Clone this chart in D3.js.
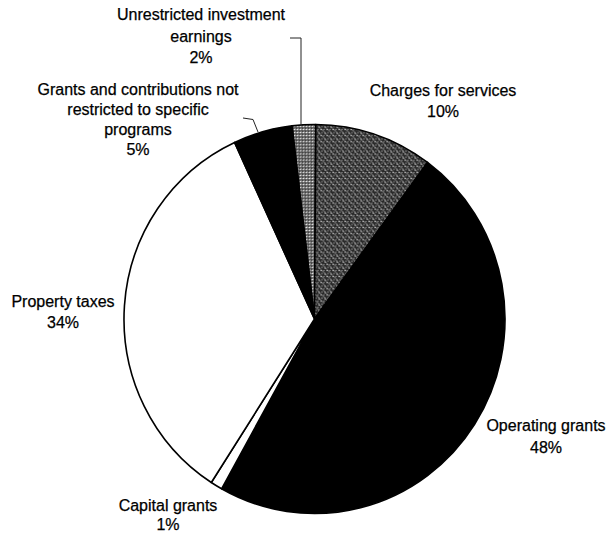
<!DOCTYPE html>
<html>
<head>
<meta charset="utf-8">
<script src="https://cdn.jsdelivr.net/npm/d3@7"></script>
<style>
  html, body { margin: 0; padding: 0; background: #fff; }
  svg { display: block; }
  text { font-family: "Liberation Sans", Arial, sans-serif; font-size: 16px; fill: #000; }
</style>
</head>
<body>
<svg width="608" height="534"></svg>
<script>

// DATA ––––––––––––––––––––––––––––––––––––––––––––––––––––––––––––––––

var categories = ["Unrestricted investment earnings", "Charges for services", "Operating grants",
                  "Capital grants", "Property taxes", "Grants and contributions not restricted to specific programs"];
var values = [2, 10, 48, 1, 34, 5];
// label text as it is broken over lines in the picture
var labelLines = [
  ["Unrestricted investment", "earnings"],
  ["Charges for services"],
  ["Operating grants"],
  ["Capital grants"],
  ["Property taxes"],
  ["Grants and contributions not", "restricted to specific", "programs"]
];

// LAYOUT –––––––––––––––––––––––––––––––––––––––––––––––––––––––––––––

var cx = 314.5, cy = 319, rx = 190.5, ry = 194.5;
var startDeg = -6.8;
var fills = ["url(#dotsLight)", "url(#dotsGray)", "#000", "#fff", "#fff", "#000"];
// label anchors: centre x, first baseline y, line height
var labelPos = [[201, 20, 21.7], [443, 96, 21], [546, 430.5, 22], [168, 510.5, 19.5], [63, 306.5, 21], [138, 94.5, 20.3]];
// leader lines for the two small slices (index -> points)
var leaders = { 0: [[290, 38], [301, 38], [301, 125]], 5: [[243, 118], [253, 119.5], [258, 132]] };

// D3 –––––––––––––––––––––––––––––––––––––––––––––––––––––––––––––––––

var svg = d3.select("svg");
var defs = svg.append("defs");

var p1 = defs.append("pattern").attr("id", "dotsLight").attr("patternUnits", "userSpaceOnUse")
  .attr("width", 3).attr("height", 3);
p1.append("rect").attr("width", 3).attr("height", 3).attr("fill", "#444");
p1.append("rect").attr("x", 0).attr("y", 0).attr("width", 2).attr("height", 1).attr("fill", "#e8e8e8");
p1.append("rect").attr("x", 1).attr("y", 2).attr("width", 1).attr("height", 1).attr("fill", "#bbb");

var p2 = defs.append("pattern").attr("id", "dotsGray").attr("patternUnits", "userSpaceOnUse")
  .attr("width", 6).attr("height", 6);
p2.append("rect").attr("width", 6).attr("height", 6).attr("fill", "#2a2a2a");
[[0, 0, "#ddd"], [3, 0, "#aaa"], [1, 3, "#bbb"], [4, 3, "#eee"], [2, 1, "#999"], [5, 4, "#999"],
 [1, 0, "#888"], [4, 4, "#aaa"], [0, 5, "#777"], [3, 2, "#888"]].forEach(function(d) {
  p2.append("rect").attr("x", d[0]).attr("y", d[1]).attr("width", 1).attr("height", 1).attr("fill", d[2]);
});

var pie = d3.pie().sort(null)
  .startAngle(startDeg * Math.PI / 180)
  .endAngle((startDeg + 360) * Math.PI / 180);

var arc = d3.arc().innerRadius(0).outerRadius(rx);

var g = svg.append("g")
  .attr("transform", "translate(" + cx + "," + cy + ") scale(1," + (ry / rx) + ")");

g.selectAll("path.slice")
  .data(pie(values))
  .enter().append("path")
    .attr("class", "slice")
    .attr("d", arc)
    .attr("fill", function(d, i) { return fills[i]; })
    .attr("stroke", "#000")
    .attr("stroke-width", 1.6)
    .attr("stroke-linejoin", "round");

// leader lines
Object.keys(leaders).forEach(function(k) {
  svg.append("path")
    .attr("d", d3.line()(leaders[k]))
    .attr("fill", "none")
    .attr("stroke", "#222")
    .attr("stroke-width", 1);
});

// labels
var fmt = function(v) { return v + "%"; };
labelLines.forEach(function(lines, i) {
  var pos = labelPos[i];
  var t = svg.append("text")
    .attr("text-anchor", "middle")
    .attr("stroke", "#000")
    .attr("stroke-width", 0.25);
  lines.concat([fmt(values[i])]).forEach(function(s, j) {
    t.append("tspan")
      .attr("x", pos[0])
      .attr("y", pos[1] + j * pos[2])
      .text(s);
  });
});

</script>
</body>
</html>
